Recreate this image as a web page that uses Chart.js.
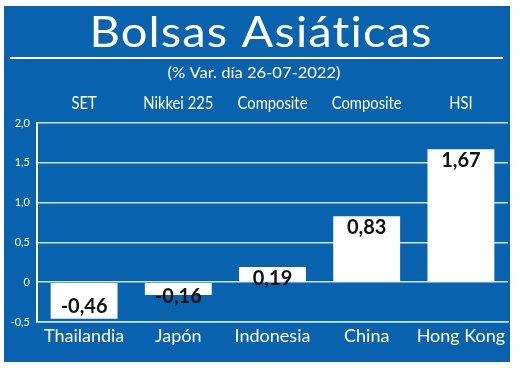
<!DOCTYPE html>
<html>
<head>
<meta charset="utf-8">
<script src="https://cdn.jsdelivr.net/npm/chart.js@4"></script>
<style>
  html, body { margin: 0; padding: 0; background: #fff; }
  #wrap { width: 520px; height: 368px; }
</style>
</head>
<body>
<div id="wrap"><canvas id="myChart" width="520" height="368"></canvas></div>
<script>
const titleText = 'Bolsas Asiáticas';
const subtitleText = '(% Var. día 26-07-2022)';
const countries = ['Thailandia', 'Japón', 'Indonesia', 'China', 'Hong Kong'];
const indexNames = ['SET', 'Nikkei 225', 'Composite', 'Composite', 'HSI'];
const changes = [-0.46, -0.16, 0.19, 0.83, 1.67];
const yTicks = [-0.5, 0, 0.5, 1.0, 1.5, 2.0];

const blue = '#0862ae';
const gridColor = '#cfe5f4';

function fmt(v){
  if (v === 0) return '0';
  return v.toFixed(1).replace('.', ',');
}

// draw text centred, stretched horizontally to a given width
function fitText(ctx, text, cx, y, width){
  const w = ctx.measureText(text).width;
  ctx.save();
  ctx.translate(cx, y);
  ctx.scale(width / w, 1);
  ctx.textAlign = 'center';
  ctx.fillText(text, 0, 0);
  ctx.restore();
}

const panel = {
  id: 'panel',
  beforeDraw(chart){
    const ctx = chart.ctx;
    ctx.save();
    ctx.fillStyle = '#fff';
    ctx.fillRect(0, 0, chart.width, chart.height);
    ctx.fillStyle = blue;
    ctx.fillRect(4, 6, 506, 356);
    ctx.restore();
  },
  afterDraw(chart){
    const ctx = chart.ctx;
    const x = chart.scales.x;
    ctx.save();
    ctx.fillStyle = '#fff';
    ctx.textAlign = 'center';
    ctx.textBaseline = 'alphabetic';
    ctx.font = '43px Lato, sans-serif';
    ctx.letterSpacing = '1px';
    fitText(ctx, titleText, 261, 47, 343);
    ctx.letterSpacing = '0px';
    ctx.fillRect(10, 57, 493, 2);
    ctx.font = '16px Lato, sans-serif';
    fitText(ctx, subtitleText, 254, 78, 173);

    // index names above the bars, condensed
    ctx.font = '18px Lato, sans-serif';
    indexNames.forEach((n, i) => {
      const px = x.getPixelForValue(i);
      ctx.save();
      ctx.translate(px, 109);
      ctx.scale(0.82, 1);
      ctx.fillText(n, 0, 0);
      ctx.restore();
    });

    // value labels
    const meta = chart.getDatasetMeta(0);
    const zero = chart.scales.y.getPixelForValue(0);
    ctx.fillStyle = '#111';
    ctx.font = 'bold 20px Lato, sans-serif';
    ctx.textBaseline = 'middle';
    meta.data.forEach((bar, i) => {
      const v = changes[i];
      let ty;
      if (v >= 0) ty = bar.y + 11;
      else ty = Math.max(bar.y - 12, zero + 14);
      ctx.fillText(v.toFixed(2).replace('.', ','), bar.x, ty);
    });
    ctx.restore();
  }
};

new Chart(document.getElementById('myChart'), {
  type: 'bar',
  data: {
    labels: countries,
    datasets: [{
      data: changes,
      backgroundColor: '#ffffff',
      borderWidth: 0,
      barPercentage: 0.71,
      categoryPercentage: 1
    }]
  },
  options: {
    responsive: false,
    animation: false,
    devicePixelRatio: 1,
    layout: { padding: { top: 123, right: 12, left: 0, bottom: 0 } },
    plugins: { legend: { display: false }, title: { display: false }, tooltip: { enabled: false } },
    scales: {
      x: {
        position: 'bottom',
        grid: { display: false, drawTicks: false },
        border: { display: true, color: gridColor, width: 1.5 },
        ticks: { color: '#fff', font: { family: 'Lato', size: 18 }, padding: 3, maxRotation: 0, autoSkip: false },
        afterFit(s){ s.height = 46; }
      },
      y: {
        min: -0.5,
        max: 2.0,
        afterBuildTicks(s){ s.ticks = yTicks.map(v => ({ value: v })); },
        grid: { color: gridColor, lineWidth: 1.5, drawTicks: false },
        border: { display: true, color: '#ffffff', width: 2 },
        ticks: { color: '#fff', font: { family: 'Lato', size: 11 }, padding: 7, callback: v => fmt(v) },
        afterFit(s){ s.width = 37; }
      }
    }
  },
  plugins: [panel]
});
</script>
</body>
</html>
